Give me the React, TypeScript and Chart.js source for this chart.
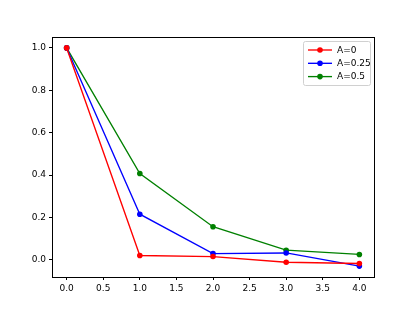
import React, { useEffect, useRef } from "react";
import { Chart, registerables } from "chart.js";

Chart.register(...registerables);

const xValues = [0, 1, 2, 3, 4];
const seriesLabels = ["A=0", "A=0.25", "A=0.5"];
const seriesColors = ["#ff0000", "#0000ff", "#008000"];
const serA0 = [1.0, 0.02, 0.015, -0.012, -0.018];
const serA025 = [1.0, 0.215, 0.029, 0.032, -0.03];
const serA05 = [1.0, 0.407, 0.156, 0.045, 0.025];
const xTicks = [0, 0.5, 1, 1.5, 2, 2.5, 3, 3.5, 4];
const yTicks = [0, 0.2, 0.4, 0.6, 0.8, 1.0];

const FONT = "'DejaVu Sans', sans-serif";

const framePlugin = {
  id: "frameAndLegend",
  afterDatasetsDraw(chart: any) {
    const { ctx, chartArea } = chart;
    ctx.save();
    ctx.strokeStyle = "#000";
    ctx.lineWidth = 1;
    ctx.strokeRect(
      Math.round(chartArea.left) + 0.5,
      Math.round(chartArea.top) + 0.5,
      Math.round(chartArea.right - chartArea.left),
      Math.round(chartArea.bottom - chartArea.top)
    );
    // legend (matplotlib style, upper right)
    const boxW = 67;
    const boxH = 44;
    const bx = chartArea.right - 4 - boxW;
    const by = chartArea.top + 4;
    ctx.fillStyle = "rgba(255,255,255,0.8)";
    ctx.strokeStyle = "#d0d0d0";
    ctx.lineWidth = 1;
    ctx.beginPath();
    (ctx as any).roundRect(bx + 0.5, by + 0.5, boxW, boxH, 2);
    ctx.fill();
    ctx.stroke();
    ctx.font = `9px ${FONT}`;
    ctx.textBaseline = "middle";
    chart.data.datasets.forEach((ds: any, i: number) => {
      const cy = by + 9 + i * 13.3;
      ctx.strokeStyle = ds.borderColor;
      ctx.lineWidth = 1.35;
      ctx.beginPath();
      ctx.moveTo(bx + 5, cy);
      ctx.lineTo(bx + 29, cy);
      ctx.stroke();
      ctx.fillStyle = ds.borderColor;
      ctx.beginPath();
      ctx.arc(bx + 17, cy, 2.8, 0, Math.PI * 2);
      ctx.fill();
      ctx.fillStyle = "#000";
      ctx.textAlign = "left";
      ctx.fillText(ds.label, bx + 34, cy + 0.5);
    });
    ctx.restore();
  },
};

export default function App() {
  const ref = useRef<HTMLCanvasElement>(null);
  useEffect(() => {
    document.body.style.margin = "0";
    const series = [serA0, serA025, serA05];
    const chart = new Chart(ref.current!, {
      type: "line",
      data: {
        datasets: series.map((s, i) => ({
          label: seriesLabels[i],
          data: xValues.map((x, j) => ({ x, y: s[j] })),
          borderColor: seriesColors[i],
          backgroundColor: seriesColors[i],
          borderWidth: 1.35,
          pointRadius: 2.8,
          pointHoverRadius: 2.8,
          pointBorderWidth: 0,
          tension: 0,
        })),
      },
      options: {
        responsive: false,
        animation: false,
        layout: { padding: { top: 37, right: 41, left: 0, bottom: 0 } },
        plugins: { legend: { display: false }, tooltip: { enabled: false } },
        scales: {
          x: {
            type: "linear",
            min: -0.2,
            max: 4.2,
            afterBuildTicks: (s: any) => {
              s.ticks = xTicks.map((v) => ({ value: v }));
            },
            afterFit: (s: any) => {
              s.height = 34;
            },
            grid: {
              display: true,
              drawOnChartArea: false,
              drawTicks: true,
              tickLength: 3,
              color: "#000",
            },
            border: { display: false },
            ticks: {
              color: "#000",
              font: { family: FONT, size: 9 },
              padding: 3,
              maxRotation: 0,
              callback: (v: any) => Number(v).toFixed(1),
            },
          },
          y: {
            type: "linear",
            min: -0.0815,
            max: 1.0515,
            afterBuildTicks: (s: any) => {
              s.ticks = yTicks.map((v) => ({ value: v }));
            },
            afterFit: (s: any) => {
              s.width = 52;
            },
            grid: {
              display: true,
              drawOnChartArea: false,
              drawTicks: true,
              tickLength: 3,
              color: "#000",
            },
            border: { display: false },
            ticks: {
              color: "#000",
              font: { family: FONT, size: 9 },
              padding: 3,
              callback: (v: any) => Number(v).toFixed(1),
            },
          },
        },
      },
      plugins: [framePlugin],
    });
    return () => chart.destroy();
  }, []);
  return (
    <div style={{ width: 415, height: 311, background: "#fff" }}>
      <canvas ref={ref} width={415} height={311} />
    </div>
  );
}
